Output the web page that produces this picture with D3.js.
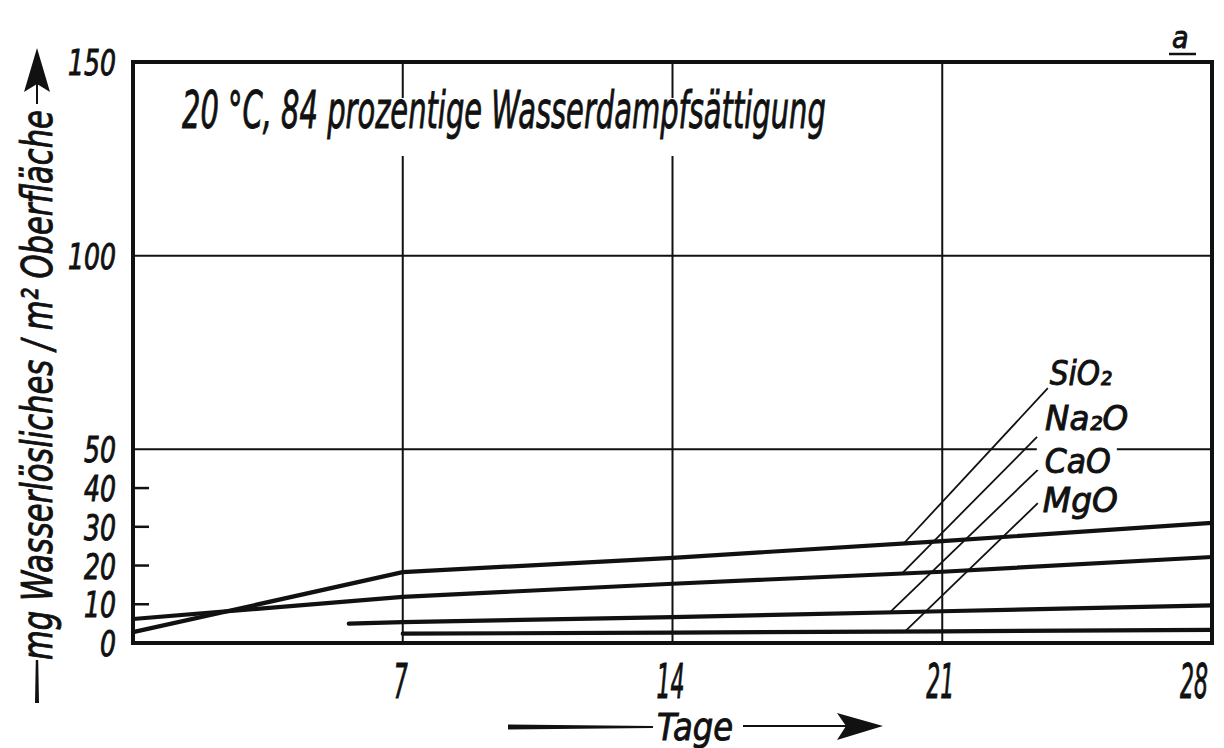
<!DOCTYPE html>
<html><head><meta charset="utf-8">
<script src="https://cdn.jsdelivr.net/npm/d3@7"></script>
<style>
body{margin:0;background:#fff;}
text{font-family:"DejaVu Sans Condensed","DejaVu Sans",sans-serif;font-style:oblique;fill:#111;stroke:#111;stroke-width:0.9px;}
</style></head>
<body><svg id="c" width="1224" height="748"></svg>
<script>
// ---- data ----
const xTicks = [7, 14, 21, 28];
const yTickLabels = [0, 10, 20, 30, 40, 50, 100, 150];
const yGrid = [50, 100];
const yMinor = [10, 20, 30, 40];
const seriesNames = ["SiO₂", "Na₂O", "CaO", "MgO"];
const sio2Days = [0, 7, 14, 21, 28];
const sio2Vals = [2.8, 18.3, 22.0, 26.3, 31.0];
const na2oDays = [0, 7, 14, 21, 28];
const na2oVals = [6.2, 11.9, 15.3, 18.4, 22.2];
const caoDays = [5.6, 7, 14, 21, 28];
const caoVals = [5.0, 5.4, 6.7, 8.2, 9.7];
const mgoDays = [7, 14, 21, 28];
const mgoVals = [2.4, 2.7, 3.0, 3.4];
// leader lines: start day on the curve, end point (day, value) at the label
const leaderStartDay = [20.0, 19.95, 19.64, 20.03];
const leaderEndDay = [23.74, 23.46, 23.48, 23.48];
const leaderEndVal = [65.8, 53.2, 44.7, 36.1];
const titleText = "20 °C, 84 prozentige Wasserdampfsättigung";
const yLabelText = "mg Wasserlösliches / m² Oberfläche";
const xLabelText = "Tage";
const panelText = "a";

const svg = d3.select("#c");
const L = 133, R = 1212, T = 62, B = 643;
const x = d3.scaleLinear().domain([0, 28]).range([L, R]);
const y = d3.scaleLinear().domain([0, 150]).range([B, T]);

// place a text and condense it horizontally to a target width
function fitText(parent, str, px, py, fontSize, width, anchor, rot, sy) {
  const t = parent.append("text").attr("x", 0).attr("y", 0)
    .attr("font-size", fontSize).attr("text-anchor", anchor || "start").text(str);
  const nat = t.node().getComputedTextLength();
  const s = width / nat;
  t.attr("transform", `translate(${px},${py})` + (rot ? ` rotate(${rot})` : "") + ` scale(${s},${sy || 1})`);
  return t;
}

// grid
const g = svg.append("g");
g.selectAll(".vg").data(xTicks.slice(0, -1)).join("line")
  .attr("x1", d => x(d)).attr("x2", d => x(d)).attr("y1", T).attr("y2", B)
  .attr("stroke", "#111").attr("stroke-width", 2);
g.selectAll(".hg").data(yGrid).join("line")
  .attr("x1", L).attr("x2", R).attr("y1", d => y(d)).attr("y2", d => y(d))
  .attr("stroke", "#111").attr("stroke-width", 2);
g.selectAll(".mt").data(yMinor).join("line")
  .attr("x1", L).attr("x2", L + 16).attr("y1", d => y(d)).attr("y2", d => y(d))
  .attr("stroke", "#111").attr("stroke-width", 2.5);

// title with white background breaking gridlines
svg.append("rect").attr("fill", "#fff").attr("x", 176).attr("y", 98).attr("width", 656).attr("height", 58);
fitText(svg, titleText, 182, 128, 52, 644, "start");

// series
const series = [
  {days: sio2Days, vals: sio2Vals},
  {days: na2oDays, vals: na2oVals},
  {days: caoDays, vals: caoVals},
  {days: mgoDays, vals: mgoVals}
];
const line = d3.line().x(d => x(d[0])).y(d => y(d[1]));
series.forEach(s => {
  svg.append("path").attr("d", line(s.days.map((d, i) => [d, s.vals[i]])))
    .attr("fill", "none").attr("stroke", "#111").attr("stroke-width", 4.2)
    .attr("stroke-linejoin", "round").attr("stroke-linecap", "round");
});

// leaders and labels
function interp(s, d) {
  return d3.scaleLinear().domain(s.days).range(s.vals)(d);
}
series.forEach((s, i) => {
  const sx = x(leaderStartDay[i]), sy = y(interp(s, leaderStartDay[i]));
  const ex = x(leaderEndDay[i]), ey = y(leaderEndVal[i]);
  svg.append("line").attr("x1", sx).attr("y1", sy).attr("x2", ex).attr("y2", ey)
    .attr("stroke", "#111").attr("stroke-width", 1.8);
});
const labelW = [62, 83, 66, 75];
const labelDx = [2, 8, 7, 5];
const labelDy = [-3, -7, 3, 9];
seriesNames.forEach((n, i) => {
  const ex = x(leaderEndDay[i]), ey = y(leaderEndVal[i]);
  if (n === "CaO") {
    svg.append("rect").attr("fill", "#fff").attr("x", ex - 1).attr("y", ey - 30)
      .attr("width", 80).attr("height", 30);
  }
  fitText(svg, n, ex + labelDx[i], ey + labelDy[i], 34, labelW[i], "start");
});

// frame
svg.append("rect").attr("x", L).attr("y", T).attr("width", R - L).attr("height", B - T)
  .attr("fill", "none").attr("stroke", "#111").attr("stroke-width", 4);

// y tick labels
yTickLabels.forEach(d => {
  fitText(svg, String(d), 116, y(d) + 13, 36, String(d).length * 16, "end");
});

// x tick labels
xTicks.forEach((d, i) => {
  fitText(svg, String(d), x(d) - (i === xTicks.length - 1 ? 18 : 2), 698, 48,
    String(d).length * 14, "middle");
});

// x axis label with arrow
svg.append("path").attr("d", "M508,724.5 L653,726 L653,728 L508,729.5 Z").attr("fill", "#111");
fitText(svg, xLabelText, 657, 740, 38, 76, "start");
svg.append("line").attr("x1", 743).attr("x2", 850).attr("y1", 726).attr("y2", 726)
  .attr("stroke", "#111").attr("stroke-width", 2);
svg.append("path").attr("d", "M837,713 L883,726 L837,740 L846,726 Z").attr("fill", "#111");

// y axis label with arrow
svg.append("path").attr("d", "M35,703 L35.8,660 L38.2,660 L39,703 Z").attr("fill", "#111");
fitText(svg, yLabelText, 52, 660, 42, 550, "start", -90);
svg.append("line").attr("x1", 37).attr("x2", 37).attr("y1", 104).attr("y2", 80)
  .attr("stroke", "#111").attr("stroke-width", 2);
svg.append("path").attr("d", "M37,48 L50,92 L37,84 L24,92 Z").attr("fill", "#111");

// panel letter
svg.append("text").attr("x", 1172).attr("y", 48).attr("font-size", 30).text(panelText);
svg.append("line").attr("x1", 1169).attr("x2", 1196).attr("y1", 54).attr("y2", 54)
  .attr("stroke", "#111").attr("stroke-width", 2.5);
</script></body></html>
